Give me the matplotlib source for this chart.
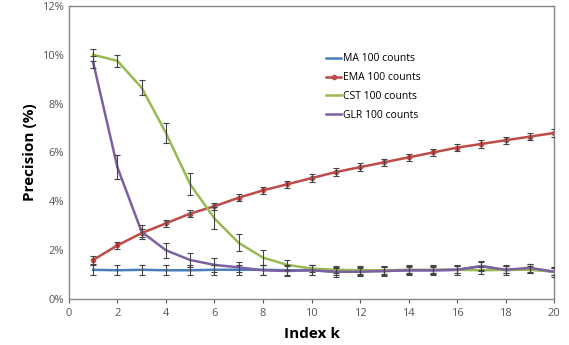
import matplotlib
matplotlib.use("Agg")
import matplotlib.pyplot as plt
from matplotlib.ticker import FuncFormatter

plt.rcParams['font.family'] = ['Open Sans', 'DejaVu Sans']

k = list(range(1, 21))
ma = [1.2, 1.18, 1.2, 1.18, 1.18, 1.2, 1.2, 1.2, 1.18, 1.18, 1.12, 1.15, 1.15, 1.18, 1.18, 1.2, 1.35, 1.18, 1.25, 1.12]
ema = [1.6, 2.2, 2.7, 3.1, 3.5, 3.8, 4.15, 4.45, 4.7, 4.95, 5.2, 5.4, 5.6, 5.8, 6.0, 6.2, 6.35, 6.5, 6.65, 6.8]
cst = [10.0, 9.75, 8.65, 6.8, 4.7, 3.3, 2.3, 1.7, 1.4, 1.25, 1.2, 1.18, 1.18, 1.2, 1.2, 1.2, 1.18, 1.2, 1.2, 1.12]
glr = [9.7, 5.4, 2.75, 2.0, 1.6, 1.4, 1.3, 1.18, 1.15, 1.18, 1.12, 1.12, 1.15, 1.18, 1.18, 1.2, 1.35, 1.2, 1.28, 1.12]

ma_err = [0.2] * 20
ema_err = [0.15] * 20
cst_err = [0.25, 0.25, 0.3, 0.4, 0.45, 0.45, 0.35, 0.3, 0.2, 0.15, 0.15, 0.15, 0.15, 0.15, 0.15, 0.15, 0.15, 0.15, 0.15, 0.15]
glr_err = [0.25, 0.5, 0.3, 0.3, 0.3, 0.3, 0.2, 0.2, 0.2, 0.2, 0.15, 0.15, 0.15, 0.15, 0.15, 0.15, 0.15, 0.15, 0.15, 0.15]

labels = ['MA 100 counts', 'EMA 100 counts', 'CST 100 counts', 'GLR 100 counts']
colors = ['#4a7ebb', '#be4b48', '#98b954', '#7d60a0']
xticks = list(range(0, 21, 2))
yticks = [0, 2, 4, 6, 8, 10, 12]

fig = plt.figure(figsize=(5.69, 3.45), dpi=100)
ax = fig.add_axes([0.121, 0.133, 0.853, 0.85])

series = [(ma, ma_err), (ema, ema_err), (cst, cst_err), (glr, glr_err)]
handles = []
for (vals, errs), lab, col in zip(series, labels, colors):
    ax.errorbar(k, vals, yerr=errs, fmt='none', ecolor='#444444', elinewidth=0.8, capsize=2, capthick=0.8, zorder=3)
    h, = ax.plot(k, vals, color=col, lw=1.8, marker='o' if lab.startswith('EMA') else None,
                 markersize=3, label=lab, zorder=2)
    handles.append(h)

ax.set_xlim(0, 20)
ax.set_ylim(0, 12)
ax.set_xticks(xticks)
ax.set_yticks(yticks)
ax.yaxis.set_major_formatter(FuncFormatter(lambda v, p: f"{int(v)}%"))
ax.tick_params(axis='both', labelsize=8, colors='#555555', length=3, direction='out')
ax.tick_params(axis='y', length=0)
for s in ax.spines.values():
    s.set_color('#888888')
    s.set_linewidth(1.0)

ax.set_xlabel('Index k', fontsize=11, fontweight='bold', labelpad=6)
ax.set_ylabel('Precision (%)', fontsize=11, fontweight='bold', labelpad=4)

leg = ax.legend(handles=handles, loc='upper left', bbox_to_anchor=(0.51, 0.87), frameon=False,
                fontsize=7.5, handlelength=1.5, handletextpad=0.2, labelspacing=0.75)

fig.savefig('out.png', dpi=100)
